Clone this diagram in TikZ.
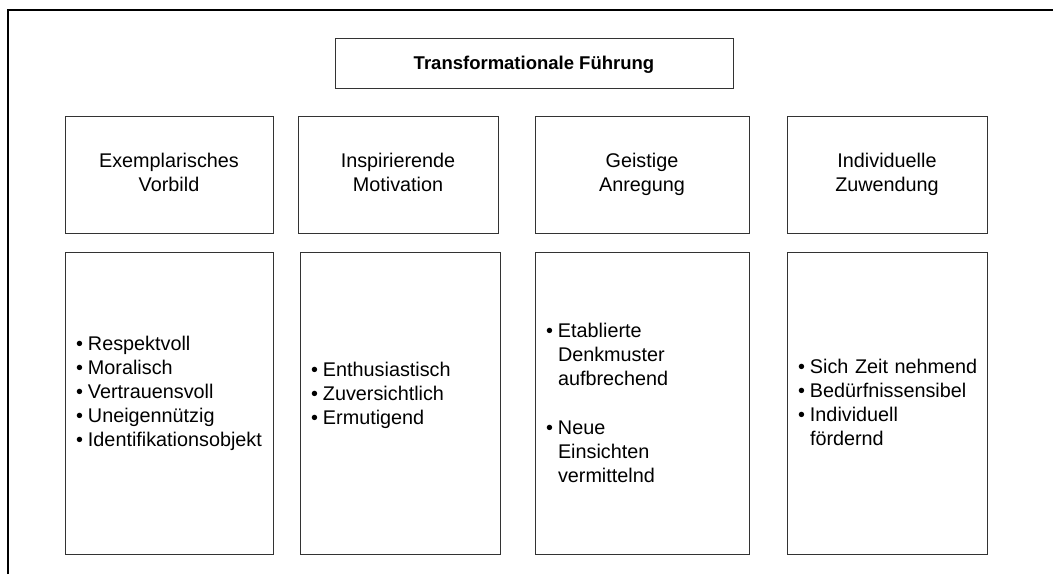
\documentclass[tikz,border=0pt]{standalone}
\usepackage{fontspec}
\setmainfont{Liberation Sans}
\usetikzlibrary{positioning}

\newcommand{\bul}[1]{\par\noindent\makebox[12pt][l]{\textbullet}#1}
\newcommand{\cnt}[1]{\par\noindent\hspace*{12pt}#1}
\newcommand{\lift}[1]{\par\vspace{#1}\hrule height 0pt}

\begin{document}
\begin{tikzpicture}[x=1pt,y=1pt,node distance=19pt,
    hbox/.style={draw=black!80,line width=0.9pt,align=center,inner sep=0pt,minimum height=117pt,
      font=\fontsize{19.8}{24}\selectfont,
      execute at begin node=\rule{0pt}{30pt},execute at end node=\rule[-5pt]{0pt}{5pt}},
    lbox/.style={draw=black!80,line width=0.9pt,inner xsep=11pt,inner ysep=0pt,minimum height=302pt,align=left,
      font=\fontsize{19.8}{24}\selectfont}]
      \useasboundingbox (0,0) rectangle (1053,574);
      \draw[line width=2.4pt] (8,0) -- (8,564) -- (1053,564);
      \node[draw=black!80,line width=0.9pt,minimum width=398pt,minimum height=50pt,inner sep=0pt,
        text height=14pt,text depth=0pt,font=\fontsize{18.5}{22}\selectfont\bfseries] (tf) at (534,511) {Transformationale Führung};
      \node[hbox,minimum width=208pt] (ev) at (169,399.5) {Exemplarisches\\Vorbild};
      \node[hbox,minimum width=200pt] (im) at (398,399.5) {Inspirierende\\Motivation};
      \node[hbox,minimum width=214pt] (ga) at (642,399.5) {Geistige\\Anregung};
      \node[hbox,minimum width=200pt] (iz) at (887,399.5) {Individuelle\\Zuwendung};
      \node[lbox,text width=186pt,below=of ev] (lev) {\bul{Respektvoll}\bul{Moralisch}\bul{Vertrauensvoll}%
        \bul{Uneigennützig}\bul{Identifikationsobjekt}\lift{30pt}};
      \node[lbox,text width=178pt,below=of im,xshift=2pt] (lim) {\bul{Enthusiastisch}\bul{Zuversichtlich}\bul{Ermutigend}\lift{26pt}};
      \node[lbox,text width=192pt,below=of ga] (lga) {\bul{Etablierte}\cnt{Denkmuster}\cnt{aufbrechend}%
        \par\vspace{25pt}\bul{Neue}\cnt{Einsichten}\cnt{vermittelnd}\lift{12pt}};
      \node[lbox,text width=178pt,below=of iz] (liz) {\bul{\mbox{Sich Zeit nehmend}}\bul{Bedürfnissensibel}\bul{Individuell}%
        \cnt{fördernd}\lift{12pt}};
    \end{tikzpicture}
\end{document}
